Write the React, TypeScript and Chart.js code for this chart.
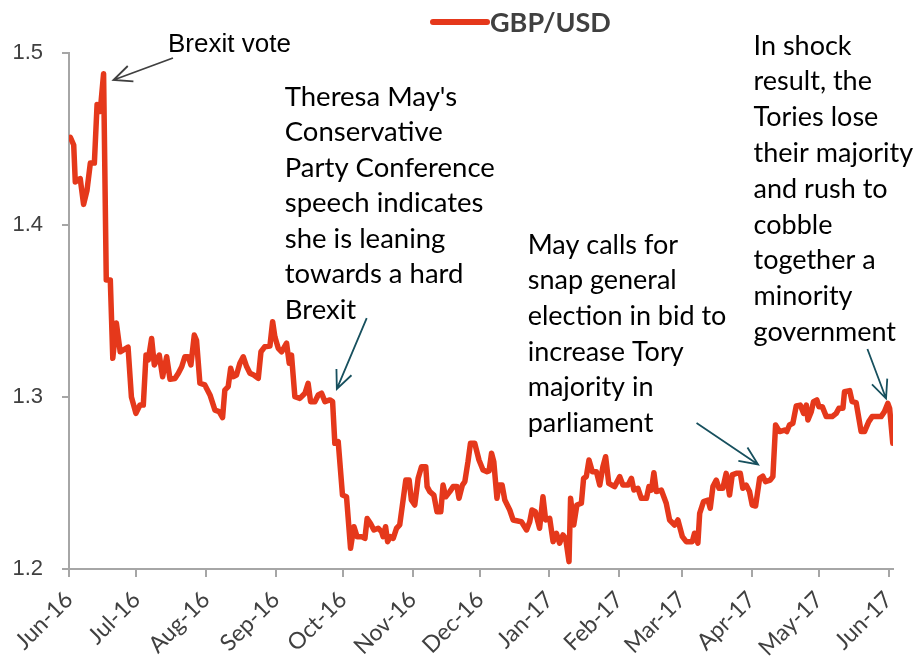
import React, { useEffect, useRef } from "react";
import { Chart, registerables } from "chart.js";

Chart.register(...registerables);

// Day offsets from 1 Jun 2016 (axis origin) and GBP/USD closing values
const DAYS = [
  0.6, 2.1, 2.8, 5.0, 6.5, 8.0, 9.5, 11.3, 12.5, 13.9, 15.4, 16.6, 18.4, 19.5, 21.1, 22.8,
  26.3, 27.8, 29.8, 31.6, 33.1, 34.3, 35.3, 36.8, 38.0, 40.2, 41.7, 43.5, 45.0, 47.2, 48.7,
  50.2, 51.6, 53.1, 54.3, 55.8, 56.8, 58.3, 60.5, 62.8, 65.0, 66.9, 68.4, 69.4, 70.9, 72.0,
  73.1, 74.6, 76.1, 77.6, 79.1, 80.6, 82.3, 84.3, 85.5, 87.2, 89.5, 90.7, 91.7, 93.2, 94.7,
  96.9, 98.1, 99.1, 100.6, 102.8, 105.1, 106.5, 107.6, 109.5, 111.0, 112.5, 114.0, 116.2,
  117.4, 118.4, 119.9, 121.8, 123.6, 125.4, 126.9, 128.3, 130.3, 131.8, 132.8, 134.3, 135.8,
  137.7, 139.2, 139.9, 141.0, 141.9, 143.2, 144.4, 145.9, 147.3, 148.8, 150.0, 151.5, 152.5,
  154.0, 155.5, 157.0, 158.9, 159.5, 160.7, 162.5, 163.9, 165.6, 166.6, 167.8, 169.6, 171.1,
  172.8, 173.7, 175.2, 176.3, 177.7, 178.8, 180.7, 182.6, 184.4, 186.2, 187.1, 188.2, 189.2,
  190.6, 191.5, 192.9, 194.1, 196.3, 197.8, 201.5, 203.8, 205.2, 206.2, 207.7, 209.6, 211.1,
  212.3, 214.1, 215.6, 217.1, 218.5, 220.0, 221.2, 222.7, 223.4, 224.8, 226.2, 228.2, 229.2,
  230.4, 231.6, 233.1, 234.9, 236.4, 237.8, 239.0, 240.4, 243.0, 245.3, 246.7, 249.0, 250.5,
  251.6, 253.4, 254.9, 257.2, 258.3, 259.4, 260.5, 261.6, 263.8, 266.0, 267.5, 269.7, 271.2,
  273.2, 274.9, 277.6, 278.6, 280.1, 280.9, 282.6, 284.6, 285.6, 286.8, 288.3, 289.5, 291.2,
  292.7, 294.2, 295.4, 297.2, 299.0, 300.1, 301.6, 303.1, 304.3, 305.8, 307.6, 309.0, 310.2,
  312.3, 313.5, 314.7, 316.5, 318.7, 319.7, 320.9, 322.4, 323.9, 325.7, 327.2, 328.4, 329.1,
  330.6, 331.6, 333.1, 334.0, 335.5, 337.3, 339.9, 341.7, 342.9, 344.7, 345.4, 347.7, 348.8,
  350.6, 352.8, 354.3, 356.2, 357.7, 361.7, 363.2, 364.7, 365.5, 366.9,
];

const GBPUSD = [
  1.451, 1.4465, 1.425, 1.427, 1.412, 1.42, 1.436, 1.436, 1.47, 1.466, 1.488, 1.368, 1.368,
  1.3225, 1.343, 1.3263, 1.329, 1.3, 1.2905, 1.2953, 1.2953, 1.3244, 1.3215, 1.334, 1.3186,
  1.3244, 1.3118, 1.3234, 1.3103, 1.3108, 1.3138, 1.3176, 1.3234, 1.3234, 1.3186, 1.336,
  1.333, 1.308, 1.307, 1.3012, 1.2924, 1.2915, 1.288, 1.304, 1.306, 1.3167, 1.3118, 1.3128,
  1.3196, 1.3234, 1.3177, 1.3138, 1.3128, 1.3108, 1.3263, 1.3292, 1.3297, 1.3438, 1.335,
  1.3283, 1.3263, 1.3313, 1.3196, 1.3244, 1.3002, 1.2992, 1.3022, 1.3079, 1.2973, 1.2973,
  1.3012, 1.3022, 1.2973, 1.2983, 1.2973, 1.2731, 1.2741, 1.243, 1.242, 1.212, 1.2246,
  1.2188, 1.2188, 1.2178, 1.2294, 1.2265, 1.2227, 1.2237, 1.2217, 1.2188, 1.2246, 1.2159,
  1.2188, 1.2178, 1.2237, 1.2256, 1.2401, 1.2517, 1.2517, 1.2401, 1.2372, 1.2527, 1.2595,
  1.2595, 1.2479, 1.245, 1.243, 1.2333, 1.2333, 1.2488, 1.242, 1.245, 1.2479, 1.2479, 1.2411,
  1.2488, 1.2508, 1.2624, 1.2731, 1.2731, 1.2634, 1.2576, 1.2566, 1.257, 1.2673, 1.2624,
  1.2411, 1.2488, 1.2488, 1.2401, 1.2343, 1.2285, 1.2275, 1.2227, 1.2275, 1.2343, 1.2333,
  1.2237, 1.242, 1.2285, 1.2294, 1.2159, 1.2208, 1.215, 1.2198, 1.2178, 1.2043, 1.2411,
  1.2256, 1.2372, 1.2382, 1.2527, 1.2537, 1.2634, 1.2566, 1.2566, 1.2488, 1.2595, 1.2653,
  1.2498, 1.2479, 1.2537, 1.2488, 1.2488, 1.2527, 1.2459, 1.2469, 1.2411, 1.2411, 1.2479,
  1.2459, 1.256, 1.245, 1.2459, 1.2382, 1.2285, 1.2256, 1.2285, 1.2188, 1.2159, 1.2159,
  1.2208, 1.215, 1.2324, 1.2392, 1.2401, 1.2353, 1.2479, 1.2517, 1.2469, 1.2469, 1.2556,
  1.243, 1.2547, 1.2556, 1.2556, 1.2469, 1.2488, 1.245, 1.2372, 1.2366, 1.2527, 1.254,
  1.2508, 1.2517, 1.2537, 1.2837, 1.2799, 1.2808, 1.2799, 1.2837, 1.2847, 1.2948, 1.2953,
  1.2905, 1.2953, 1.2866, 1.2915, 1.2973, 1.2983, 1.2944, 1.2944, 1.2886, 1.2886, 1.2905,
  1.2934, 1.2934, 1.3031, 1.3037, 1.2973, 1.2967, 1.2799, 1.2799, 1.2857, 1.2886, 1.2886,
  1.2915, 1.2963, 1.2934, 1.2731,
];

const MONTH_TICKS = [0, 30, 61, 92, 122, 153, 183, 214, 245, 273, 304, 334, 365];
const MONTH_LABELS = [
  "Jun-16", "Jul-16", "Aug-16", "Sep-16", "Oct-16", "Nov-16", "Dec-16",
  "Jan-17", "Feb-17", "Mar-17", "Apr-17", "May-17", "Jun-17",
];

const SERIES_NAME = "GBP/USD";

const NOTE_BREXIT = ["Brexit vote"];
const NOTE_MAY_SPEECH = [
  "Theresa May's", "Conservative", "Party Conference", "speech indicates",
  "she is leaning", "towards a hard", "Brexit",
];
const NOTE_ELECTION_CALL = [
  "May calls for", "snap general", "election in bid to", "increase Tory",
  "majority in", "parliament",
];
const NOTE_ELECTION_RESULT = [
  "In shock", "result, the", "Tories lose", "their majority", "and rush to",
  "cobble", "together a", "minority", "government",
];

const LINE_COLOR = "#E5381B";
const AXIS_COLOR = "#A6A6A6";
const TEXT_COLOR = "#404040";
const CALIBRI_LIKE = "Lato, 'Open Sans', sans-serif";

// annotation anchors in data space (day, rate)
const NOTES = [
  { lines: NOTE_BREXIT, day: 44.1, val: 1.5047, font: "26px 'Liberation Sans', Arial, sans-serif", lh: 30 },
  { lines: NOTE_MAY_SPEECH, day: 96.1, val: 1.4744, font: `27.5px ${CALIBRI_LIKE}`, lh: 35.5 },
  { lines: NOTE_ELECTION_CALL, day: 204.3, val: 1.3884, font: `27px ${CALIBRI_LIKE}`, lh: 35.7 },
  { lines: NOTE_ELECTION_RESULT, day: 304.9, val: 1.5041, font: `27px ${CALIBRI_LIKE}`, lh: 35.8 },
];

const ARROWS = [
  { from: [46.3, 1.4971], to: [19.8, 1.4843], color: "#404040" },
  { from: [132.6, 1.3459], to: [119.3, 1.3047], color: "#17505E" },
  { from: [279.5, 1.2849], to: [306.9, 1.2608], color: "#17505E" },
  { from: [355.6, 1.3279], to: [363.9, 1.2991], color: "#17505E" },
];

const notesPlugin = {
  id: "notes",
  afterDraw(chart: any) {
    const { ctx, chartArea } = chart;
    const xs = chart.scales.x;
    const ys = chart.scales.y;
    ctx.save();
    // legend
    const lx = chartArea.left + 364;
    const ly = chartArea.top - 31;
    ctx.strokeStyle = LINE_COLOR;
    ctx.lineWidth = 6;
    ctx.lineCap = "round";
    ctx.beginPath();
    ctx.moveTo(lx, ly);
    ctx.lineTo(lx + 54, ly);
    ctx.stroke();
    ctx.fillStyle = TEXT_COLOR;
    ctx.font = `bold 27px ${CALIBRI_LIKE}`;
    ctx.textBaseline = "middle";
    ctx.textAlign = "left";
    ctx.fillText(SERIES_NAME, lx + 57, ly + 1);

    // notes
    ctx.fillStyle = "#000000";
    for (const n of NOTES) {
      ctx.font = n.font;
      const px = xs.getPixelForValue(n.day);
      const py = ys.getPixelForValue(n.val);
      n.lines.forEach((t, i) => ctx.fillText(t, px, py + i * n.lh));
    }

    // arrows
    ctx.lineWidth = 1.8;
    ctx.lineCap = "butt";
    for (const a of ARROWS) {
      const x1 = xs.getPixelForValue(a.from[0]);
      const y1 = ys.getPixelForValue(a.from[1]);
      const x2 = xs.getPixelForValue(a.to[0]);
      const y2 = ys.getPixelForValue(a.to[1]);
      const ang = Math.atan2(y2 - y1, x2 - x1);
      const len = 20;
      const spread = 0.42;
      ctx.strokeStyle = a.color;
      ctx.beginPath();
      ctx.moveTo(x1, y1);
      ctx.lineTo(x2, y2);
      ctx.moveTo(x2 - len * Math.cos(ang - spread), y2 - len * Math.sin(ang - spread));
      ctx.lineTo(x2, y2);
      ctx.lineTo(x2 - len * Math.cos(ang + spread), y2 - len * Math.sin(ang + spread));
      ctx.stroke();
    }
    ctx.restore();
  },
};

export default function App() {
  const ref = useRef<HTMLCanvasElement | null>(null);
  useEffect(() => {
    if (!ref.current) return;
    const chart = new Chart(ref.current, {
      type: "line",
      data: {
        datasets: [
          {
            label: SERIES_NAME,
            data: DAYS.map((d, i) => ({ x: d, y: GBPUSD[i] })),
            borderColor: LINE_COLOR,
            backgroundColor: LINE_COLOR,
            borderWidth: 5.5,
            pointRadius: 0,
            tension: 0,
            borderJoinStyle: "round",
            borderCapStyle: "round",
          },
        ],
      },
      options: {
        animation: false,
        responsive: false,
        layout: { padding: { left: 0, right: 28, top: 53, bottom: 0 } },
        plugins: { legend: { display: false }, tooltip: { enabled: false } },
        scales: {
          x: {
            type: "linear",
            min: 0,
            max: 367,
            afterFit: (s: any) => {
              s.height = 88;
            },
            afterBuildTicks: (s: any) => {
              s.ticks = MONTH_TICKS.map((v) => ({ value: v }));
            },
            ticks: {
              autoSkip: false,
              maxRotation: 45,
              minRotation: 45,
              padding: 9,
              color: TEXT_COLOR,
              font: { family: CALIBRI_LIKE, size: 23 },
              callback: (_v: any, i: number) => MONTH_LABELS[i],
            },
            grid: { drawOnChartArea: false, drawTicks: true, tickLength: 8, color: AXIS_COLOR, lineWidth: 2 },
            border: { color: AXIS_COLOR, width: 2 },
          },
          y: {
            min: 1.2,
            max: 1.5,
            afterFit: (s: any) => {
              s.width = 69;
            },
            ticks: {
              stepSize: 0.1,
              padding: 19,
              color: TEXT_COLOR,
              font: { family: "'Liberation Sans', Arial, sans-serif", size: 22 },
              callback: (v: any) => Number(v).toFixed(1),
            },
            grid: { drawOnChartArea: false, drawTicks: true, tickLength: 7, color: AXIS_COLOR, lineWidth: 2 },
            border: { color: AXIS_COLOR, width: 2 },
          },
        },
      },
      plugins: [notesPlugin],
    });
    return () => chart.destroy();
  }, []);
  return (
    <div style={{ position: "fixed", left: 0, top: 0, width: 921, height: 657, background: "#fff" }}>
      <canvas ref={ref} width={921} height={657} />
    </div>
  );
}
